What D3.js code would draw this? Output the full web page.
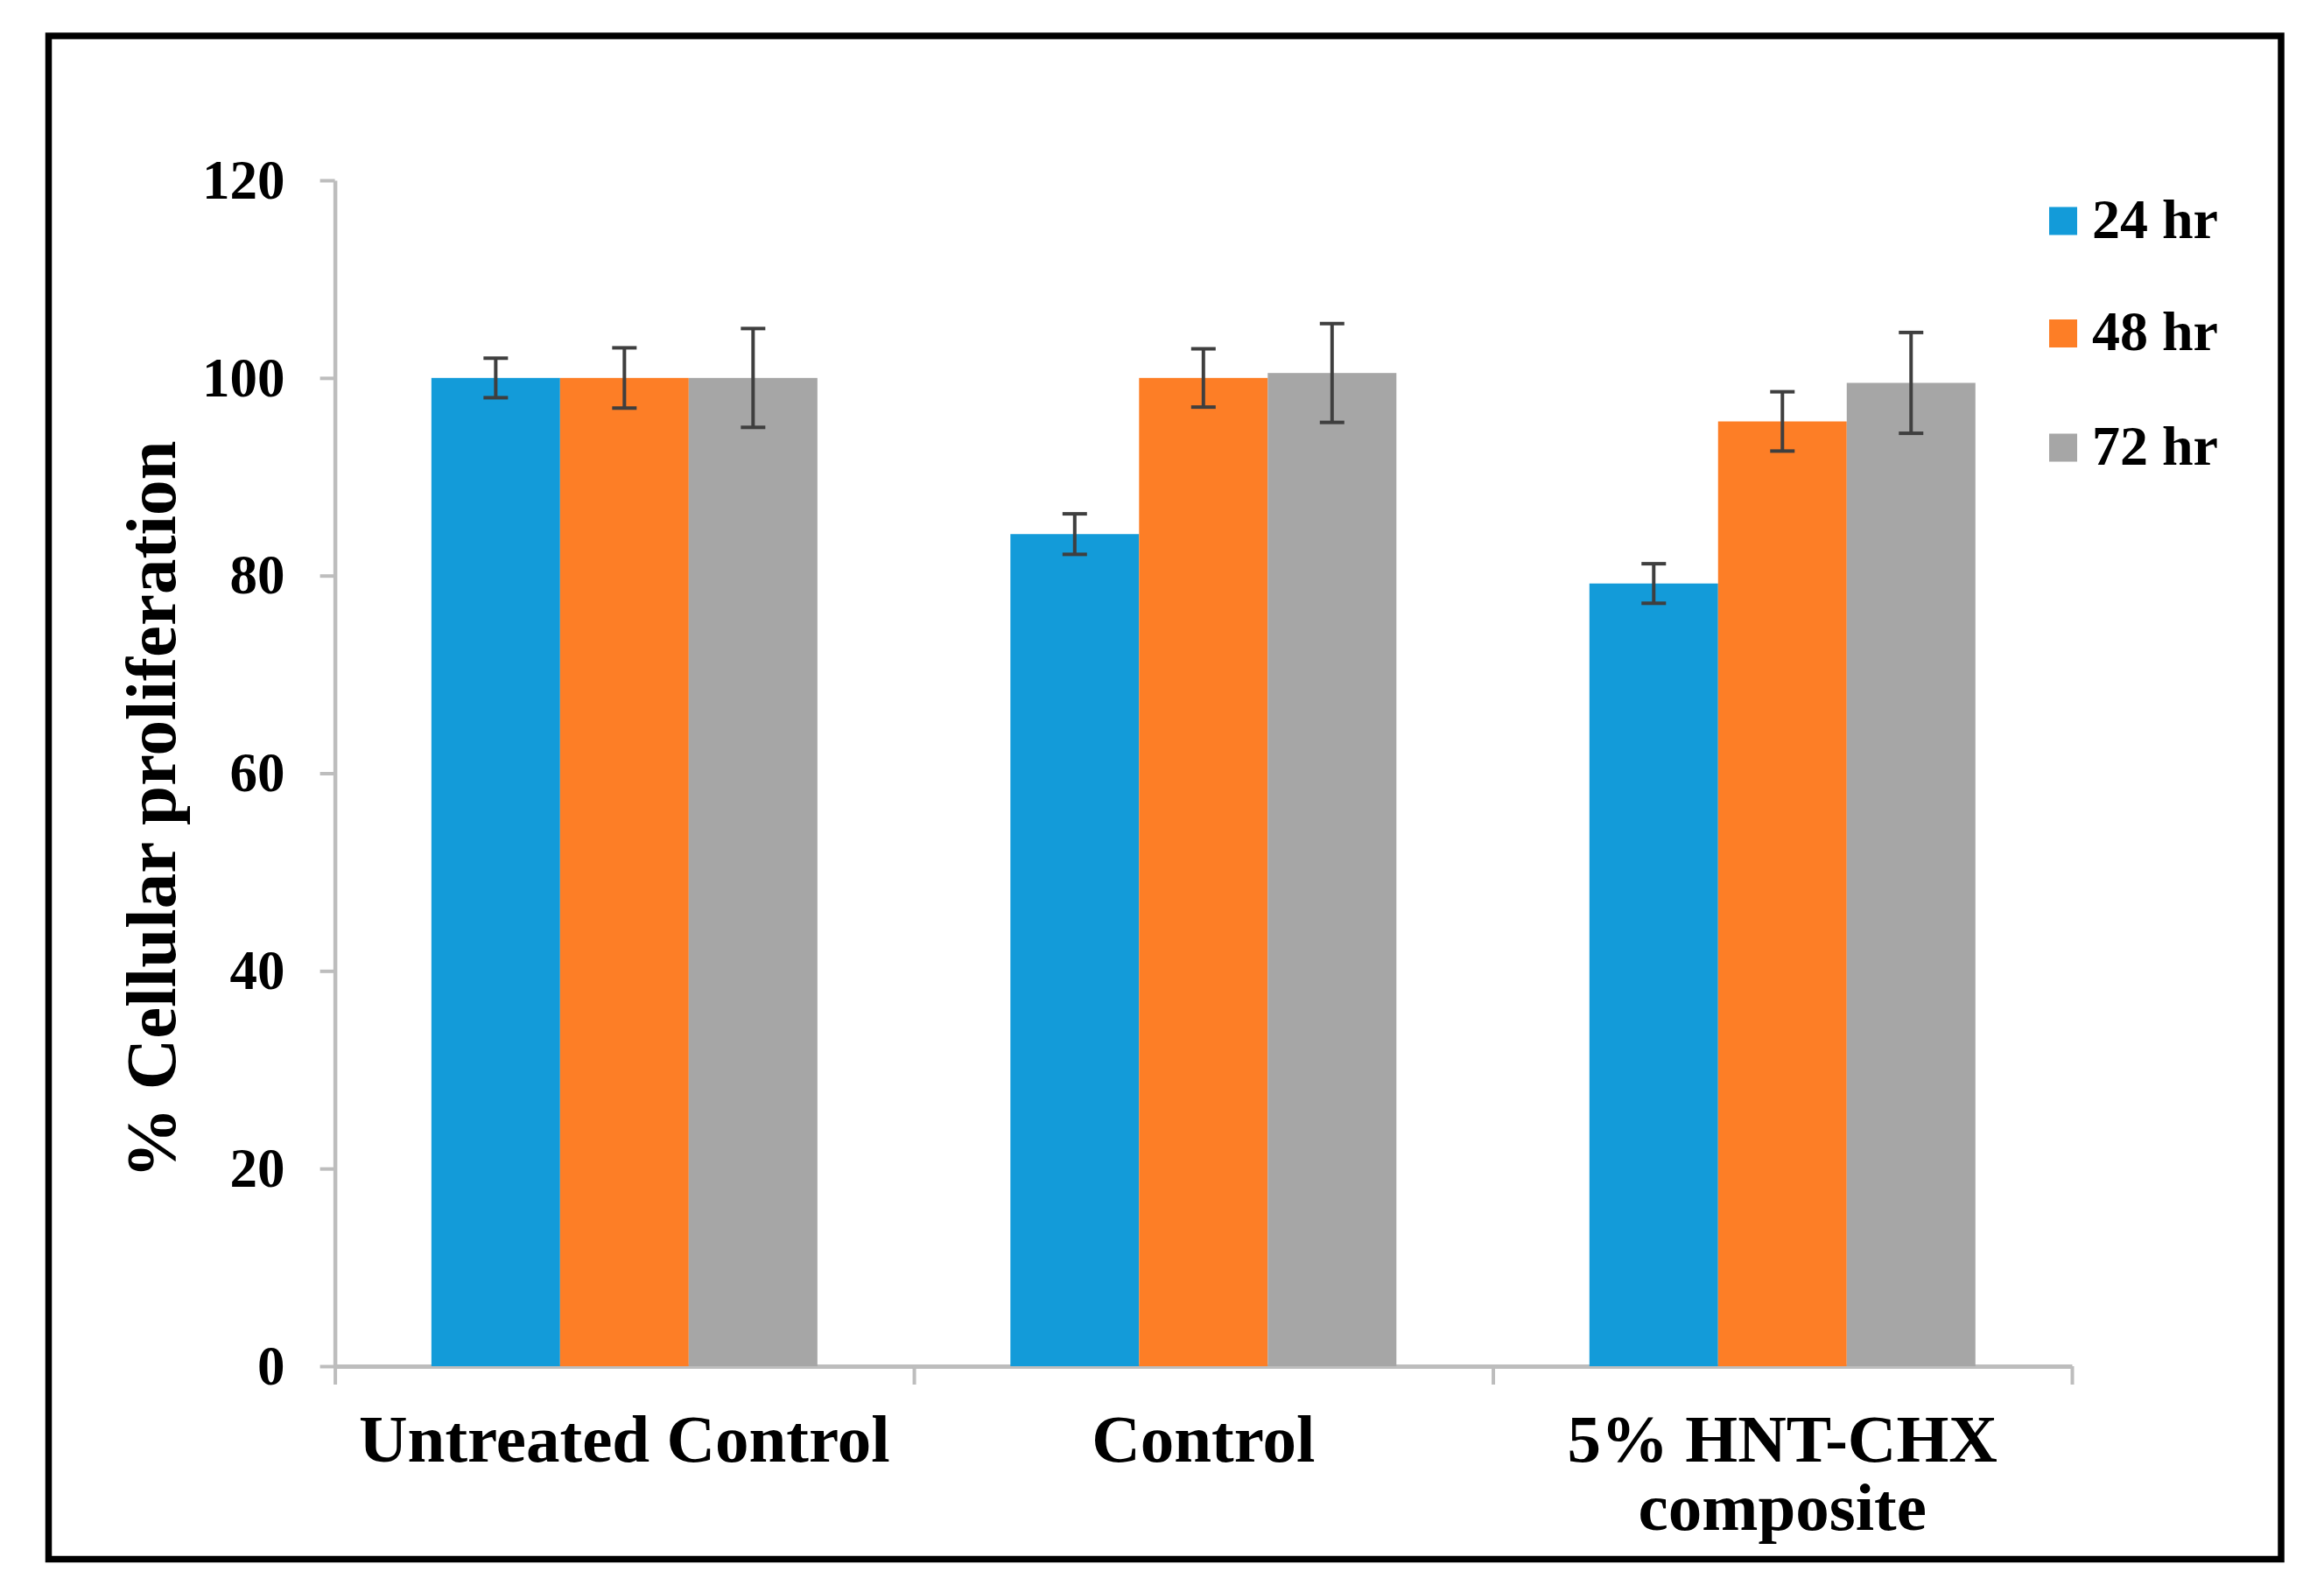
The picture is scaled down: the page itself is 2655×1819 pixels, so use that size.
<!DOCTYPE html>
<html>
<head>
<meta charset="utf-8">
<script src="https://cdn.jsdelivr.net/npm/d3@7"></script>
<style>
  html, body { margin: 0; padding: 0; background: #fff; }
  svg { display: block; }
  text { font-family: "Liberation Serif", "Times New Roman", serif; font-weight: bold; fill: #000; }
</style>
</head>
<body>
<svg id="chart" width="2655" height="1819"></svg>
<script>
// ---- Data ----
const categories = ["Untreated Control", "Control", "5% HNT-CHX composite"];
const categoryLines = [["Untreated Control"], ["Control"], ["5% HNT-CHX", "composite"]];
const seriesNames = ["24 hr", "48 hr", "72 hr"];
const seriesColors = ["#139bd9", "#fd7e26", "#a6a6a6"];
const values24 = [100, 84.2, 79.2];
const values48 = [100, 100, 95.6];
const values72 = [100, 100.5, 99.5];
const err24 = [2.0, 2.05, 2.0];
const err48 = [3.05, 2.95, 3.0];
const err72 = [5.0, 5.0, 5.1];
const yTicks = [0, 20, 40, 60, 80, 100, 120];
const yTitle = "% Cellular proliferation";

const seriesValues = [values24, values48, values72];
const seriesErrors = [err24, err48, err72];

// ---- Layout ----
const svg = d3.select("#chart");
const plotLeft = 382.6, plotRight = 2367, plotTop = 206, plotBottom = 1561;

// frame
svg.append("rect")
  .attr("x", 55.5).attr("y", 41)
  .attr("width", 2550.5).attr("height", 1740.5)
  .attr("fill", "none").attr("stroke", "#000").attr("stroke-width", 7.5);

const x0 = d3.scaleBand().domain(categories).range([plotLeft, plotRight])
  .paddingInner(1/3).paddingOuter(1/6);
const x1 = d3.scaleBand().domain(seriesNames).range([0, x0.bandwidth()]).padding(0);
const y = d3.scaleLinear().domain([0, 120]).range([plotBottom, plotTop]);
const xBound = d3.scaleLinear().domain([0, categories.length]).range([plotLeft, plotRight]);

const axisColor = "#bdbdbd";

// y axis
const yAxisG = svg.append("g").attr("transform", `translate(${plotLeft},0)`)
  .call(d3.axisLeft(y).tickValues(yTicks).tickSize(17).tickSizeOuter(0).tickPadding(40));
yAxisG.select(".domain").attr("stroke", axisColor).attr("stroke-width", 4.5);
yAxisG.selectAll(".tick line").attr("stroke", axisColor).attr("stroke-width", 4);
yAxisG.selectAll(".tick text")
  .attr("font-family", "Liberation Serif, Times New Roman, serif")
  .attr("font-weight", "bold").attr("font-size", 63).attr("fill", "#000")
  .attr("dy", "0.32em");

// x axis (category boundary ticks)
const xAxisG = svg.append("g").attr("transform", `translate(0,${plotBottom})`)
  .call(d3.axisBottom(xBound).tickValues(d3.range(categories.length + 1)).tickSize(21).tickSizeOuter(0).tickFormat(""));
xAxisG.select(".domain").attr("stroke", axisColor).attr("stroke-width", 5);
xAxisG.selectAll(".tick line").attr("stroke", axisColor).attr("stroke-width", 4);

// bars
const groups = svg.append("g").selectAll("g.cat")
  .data(categories).join("g")
  .attr("transform", d => `translate(${x0(d)},0)`);

groups.each(function(cat, ci) {
  const g = d3.select(this);
  seriesNames.forEach((s, si) => {
    const v = seriesValues[si][ci];
    g.append("rect")
      .attr("x", x1(s)).attr("width", x1.bandwidth())
      .attr("y", y(v)).attr("height", y(0) - y(v))
      .attr("fill", seriesColors[si]);
  });
  seriesNames.forEach((s, si) => {
    const v = seriesValues[si][ci], e = seriesErrors[si][ci];
    const cx = x1(s) + x1.bandwidth() / 2;
    const capW = 28;
    const eg = g.append("g").attr("stroke", "#3f3f3f").attr("stroke-width", 4);
    eg.append("line").attr("x1", cx).attr("x2", cx).attr("y1", y(v + e)).attr("y2", y(v - e));
    eg.append("line").attr("x1", cx - capW/2).attr("x2", cx + capW/2).attr("y1", y(v + e)).attr("y2", y(v + e));
    eg.append("line").attr("x1", cx - capW/2).attr("x2", cx + capW/2).attr("y1", y(v - e)).attr("y2", y(v - e));
  });
});

// category labels
categories.forEach((c, ci) => {
  const cx = x0(c) + x0.bandwidth() / 2;
  const t = svg.append("text").attr("x", cx).attr("y", 1670)
    .attr("text-anchor", "middle").attr("font-size", 77);
  categoryLines[ci].forEach((line, li) => {
    t.append("tspan").attr("x", cx).attr("dy", li === 0 ? 0 : 78).text(line);
  });
});

// y title
svg.append("text")
  .attr("transform", `translate(200,925) rotate(-90)`)
  .attr("text-anchor", "middle").attr("font-size", 81)
  .text(yTitle);

// legend
const legendY = [252.5, 381, 511.5];
const legend = svg.append("g");
seriesNames.forEach((s, si) => {
  legend.append("rect").attr("x", 2341).attr("y", legendY[si] - 16)
    .attr("width", 32).attr("height", 32).attr("fill", seriesColors[si]);
  legend.append("text").attr("x", 2390).attr("y", legendY[si] + 19)
    .attr("font-size", 64).text(s);
});
</script>
</body>
</html>
